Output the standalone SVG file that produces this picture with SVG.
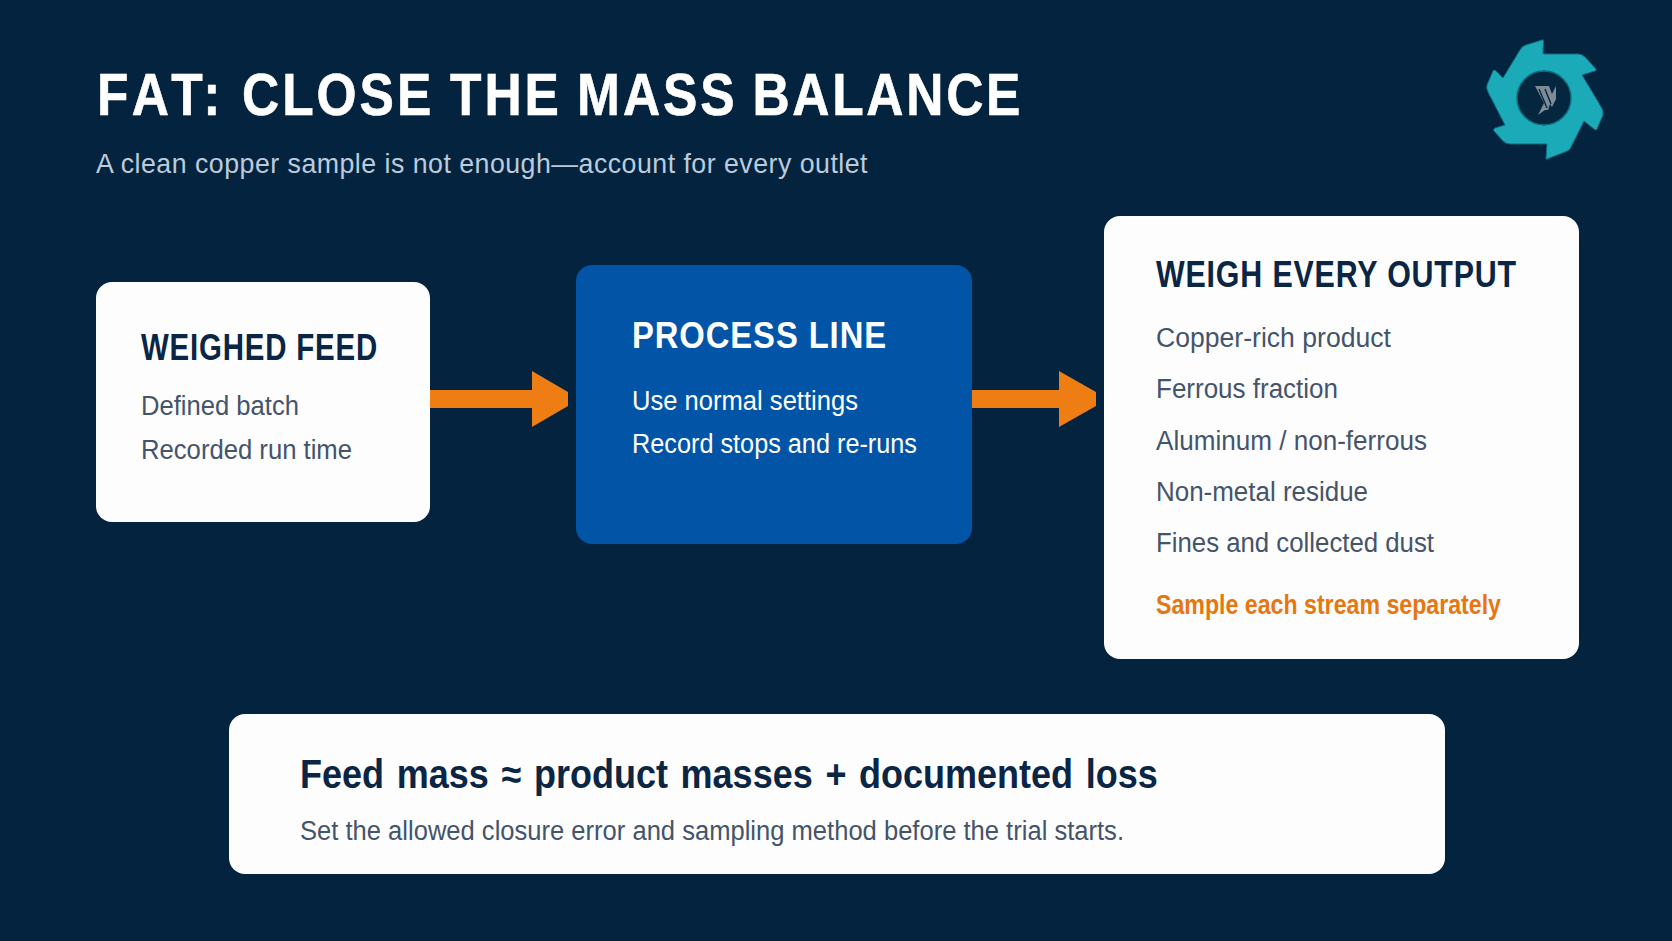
<svg xmlns="http://www.w3.org/2000/svg" width="1672" height="941" viewBox="0 0 1672 941">
<style>
text{font-family:"Liberation Sans",Arial,sans-serif}
.card{fill:#fdfdfe}
.h{font-weight:700;fill:#0b2544;font-size:36px;letter-spacing:1px}
.b{fill:#44546a;font-size:27px}
.arrow{fill:#ee7d14}
</style>
<rect width="1672" height="941" fill="#04233f"/>
<g id="title">
<text transform="translate(0 115) scale(.88 1)" font-size="58.500" font-weight="700" fill="#fff" stroke="#fff" stroke-width=".6" letter-spacing="3.400"><tspan x="110.200" y="0" letter-spacing="7">FAT:</tspan><tspan x="275" y="0">CLOSE</tspan><tspan x="511.400" y="0">THE</tspan><tspan x="655.700" y="0">MASS</tspan><tspan x="855" y="0" letter-spacing="3.100">BALANCE</tspan></text>
<text x="96" y="173" font-size="28" fill="#bccbdc" letter-spacing=".5" textLength="772" lengthAdjust="spacingAndGlyphs">A clean copper sample is not enough—account for every outlet</text>
</g>
<g id="logo">
<path d="M1542 40 Q1544 39 1543.500 42 L1543 53 Q1543 54 1545 54 L1578 54 Q1582 54 1585 57 L1596 69 Q1597 70 1595 71 L1582 75 L1600 105 Q1604 111 1603 115 L1597 129 Q1596 131 1594 129 L1584 121 L1570 149 Q1568 151 1565 152 L1547 159 Q1546 160 1546 158 L1547 144 L1510 144 Q1506 144 1503 141 L1494 131 Q1493 129 1495 128 L1505 125 L1488 92 Q1486 88 1487 85 L1493 71 Q1494 69 1496 71 L1503 78 L1520 50 Q1522 46 1526 45 Z" fill="#1babb8" stroke="#0f6c80" stroke-width="1"/>
<circle cx="1544" cy="98" r="27" fill="#05263f" stroke="#0f6c80" stroke-width="1.500"/>
<path d="M1535 86 L1549 86 L1552 94 L1556 86 L1556 99 L1552 107 L1550 104 L1548 110 L1545 110 L1538 115 L1544 103 Z" fill="#7d8c96"/>
<path d="M1539 89 L1547 108 M1545 89 L1551 104" stroke="#05263f" stroke-width="1.400" fill="none"/>
</g>
<g id="connectors">
<path class="arrow" d="M430 390 H532 V371 L568 392 V406 L532 427 V408 H430 Z"/>
<path class="arrow" d="M972 390 H1059 V371 L1096 392 V406 L1059 427 V408 H972 Z"/>
</g>
<g id="weighed-feed">
<rect class="card" x="96" y="282" width="334" height="240" rx="16"/>
<text class="h" x="141" y="360" textLength="237" lengthAdjust="spacingAndGlyphs">WEIGHED FEED</text>
<text class="b" x="141" y="415" textLength="158" lengthAdjust="spacingAndGlyphs">Defined batch</text>
<text class="b" x="141" y="459" textLength="211" lengthAdjust="spacingAndGlyphs">Recorded run time</text>
</g>
<g id="process-line">
<rect x="576" y="265" width="396" height="279" rx="16" fill="#0254a6"/>
<text class="h" x="632" y="348" style="fill:#fff" textLength="255" lengthAdjust="spacingAndGlyphs">PROCESS LINE</text>
<text class="b" x="632" y="410" style="fill:#fff" textLength="226" lengthAdjust="spacingAndGlyphs">Use normal settings</text>
<text class="b" x="632" y="453" style="fill:#fff" textLength="285" lengthAdjust="spacingAndGlyphs">Record stops and re-runs</text>
</g>
<g id="weigh-every-output">
<rect class="card" x="1104" y="216" width="475" height="443" rx="16"/>
<text class="h" x="1156" y="287" textLength="361" lengthAdjust="spacingAndGlyphs">WEIGH EVERY OUTPUT</text>
<text class="b" x="1156" y="347" textLength="235" lengthAdjust="spacingAndGlyphs">Copper-rich product</text>
<text class="b" x="1156" y="398" textLength="182" lengthAdjust="spacingAndGlyphs">Ferrous fraction</text>
<text class="b" x="1156" y="450" textLength="271" lengthAdjust="spacingAndGlyphs">Aluminum / non-ferrous</text>
<text class="b" x="1156" y="501" textLength="212" lengthAdjust="spacingAndGlyphs">Non-metal residue</text>
<text class="b" x="1156" y="552" textLength="278" lengthAdjust="spacingAndGlyphs">Fines and collected dust</text>
<text x="1156" y="614" font-size="27" font-weight="700" fill="#e8760f" textLength="345" lengthAdjust="spacingAndGlyphs">Sample each stream separately</text>
</g>
<g id="balance-equation">
<rect class="card" x="229" y="714" width="1216" height="160" rx="16"/>
<text transform="translate(300 788) scale(.9 1)" font-size="40" font-weight="700" fill="#0b2544" word-spacing="3">Feed mass ≈ product masses + documented loss</text>
<text x="300" y="840" font-size="27" fill="#44546a" textLength="824" lengthAdjust="spacingAndGlyphs">Set the allowed closure error and sampling method before the trial starts.</text>
</g>
</svg>
